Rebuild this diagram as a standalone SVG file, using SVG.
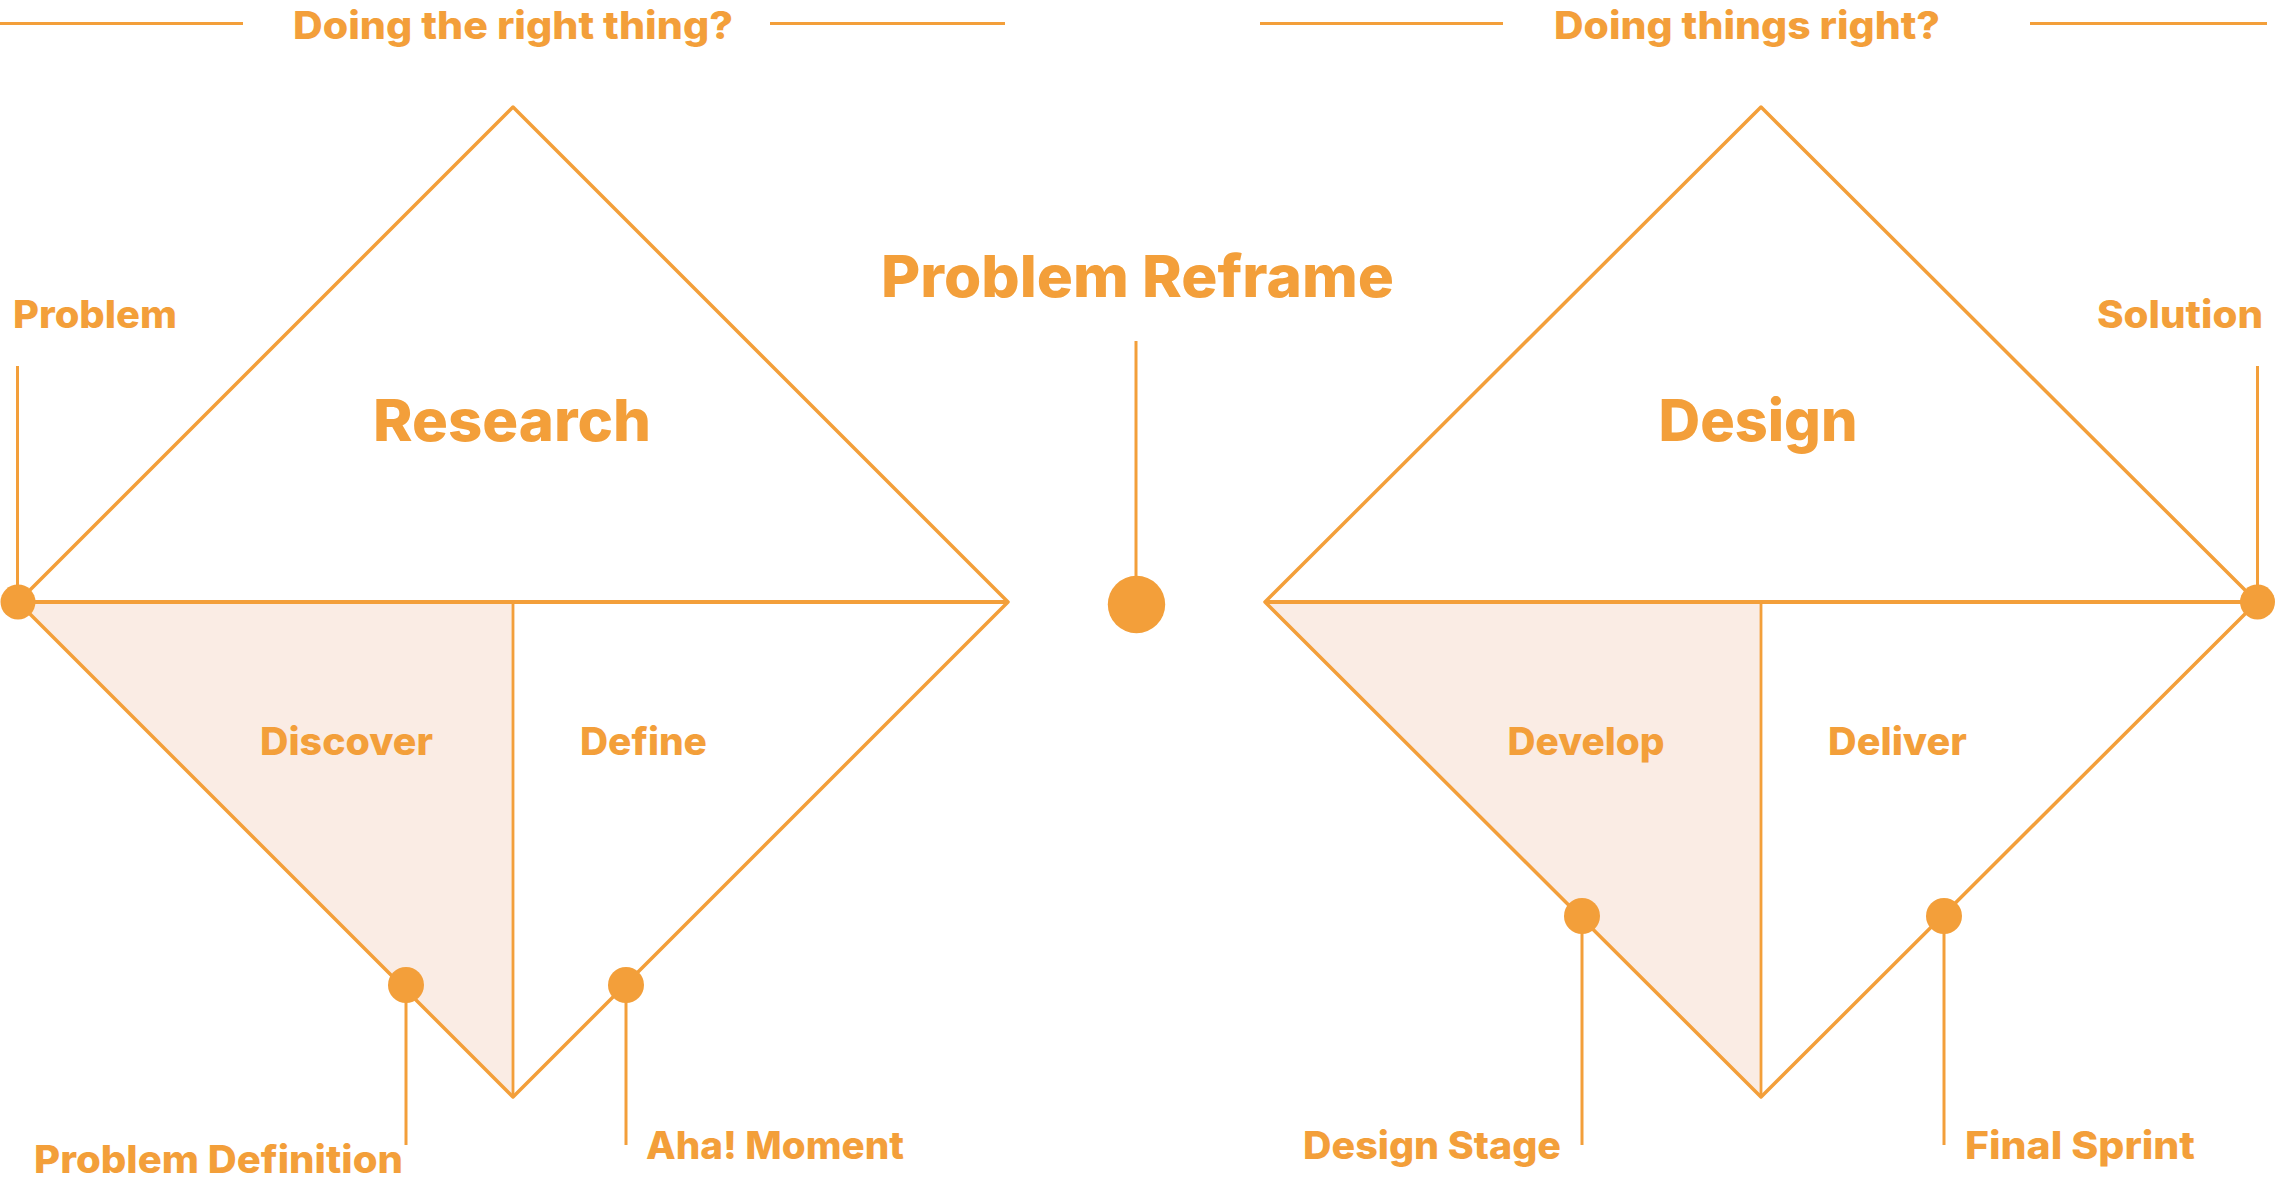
<svg xmlns="http://www.w3.org/2000/svg" width="2276" height="1184" viewBox="0 0 2276 1184">
<style>
.t{font-family:Inter,"Liberation Sans",sans-serif;font-weight:800;fill:#F39F3A}
.s{font-size:38px}
.b{font-size:58px}
.edge{fill:none;stroke:#F39F3A;stroke-width:3.5;stroke-linejoin:round}
.axis{stroke:#F39F3A;stroke-width:4.2}
.div{stroke:#F39F3A;stroke-width:2.8}
.lead{stroke:#F39F3A;stroke-width:3}
.shade{fill:#FAECE4}
.dot{fill:#F39F3A}
</style>
<rect width="2276" height="1184" fill="#FFFFFF"/>
<g id="header-left">
<line class="lead" x1="0" y1="23.5" x2="243" y2="23.5"/>
<line class="lead" x1="770" y1="23.5" x2="1005" y2="23.5"/>
<text class="t s" x="513" y="38.5" text-anchor="middle" textLength="440" lengthAdjust="spacingAndGlyphs">Doing the right thing?</text>
</g>
<g id="header-right">
<line class="lead" x1="1260" y1="23.5" x2="1503" y2="23.5"/>
<line class="lead" x1="2030" y1="23.5" x2="2267" y2="23.5"/>
<text class="t s" x="1747" y="38.5" text-anchor="middle" textLength="386" lengthAdjust="spacingAndGlyphs">Doing things right?</text>
</g>
<g id="diamond-research">
<polygon class="shade" points="18,602 513,602 513,1097"/>
<polygon class="edge" points="513,107 1008,602 513,1097 18,602"/>
<line class="axis" x1="18" y1="602" x2="1008" y2="602"/>
<line class="div" x1="513" y1="602" x2="513" y2="1097"/>
<text class="t b" x="512" y="441" text-anchor="middle" textLength="278" lengthAdjust="spacingAndGlyphs">Research</text>
<text class="t s" x="346.5" y="755" text-anchor="middle" textLength="173" lengthAdjust="spacingAndGlyphs">Discover</text>
<text class="t s" x="643.5" y="755" text-anchor="middle" textLength="127" lengthAdjust="spacingAndGlyphs">Define</text>
</g>
<g id="diamond-design">
<polygon class="shade" points="1265,602 1761,602 1761,1097"/>
<polygon class="edge" points="1761,107 2257,602 1761,1097 1265,602"/>
<line class="axis" x1="1265" y1="602" x2="2257" y2="602"/>
<line class="div" x1="1761" y1="602" x2="1761" y2="1097"/>
<text class="t b" x="1758" y="441" text-anchor="middle" textLength="199" lengthAdjust="spacingAndGlyphs">Design</text>
<text class="t s" x="1586" y="755" text-anchor="middle" textLength="157" lengthAdjust="spacingAndGlyphs">Develop</text>
<text class="t s" x="1897.5" y="755" text-anchor="middle" textLength="139" lengthAdjust="spacingAndGlyphs">Deliver</text>
</g>
<g id="connectors">
<line class="lead" x1="17.5" y1="366" x2="17.5" y2="602"/>
<line class="lead" x1="2257.5" y1="366" x2="2257.5" y2="602"/>
<line class="lead" x1="1136" y1="341" x2="1136" y2="604"/>
<line class="lead" x1="406" y1="985" x2="406" y2="1145"/>
<line class="lead" x1="626" y1="985" x2="626" y2="1145"/>
<line class="lead" x1="1582" y1="916" x2="1582" y2="1145"/>
<line class="lead" x1="1944" y1="916" x2="1944" y2="1145"/>
</g>
<g id="node-problem">
<circle class="dot" cx="18" cy="602" r="17.5"/>
<text class="t s" x="13" y="327.5" textLength="164" lengthAdjust="spacingAndGlyphs">Problem</text>
</g>
<g id="node-solution">
<circle class="dot" cx="2257.5" cy="602" r="17.5"/>
<text class="t s" x="2263" y="327.5" text-anchor="end" textLength="166" lengthAdjust="spacingAndGlyphs">Solution</text>
</g>
<g id="node-reframe">
<circle class="dot" cx="1136.5" cy="604.5" r="28.7"/>
<text class="t b" x="1137.5" y="297" text-anchor="middle" textLength="513" lengthAdjust="spacingAndGlyphs">Problem Reframe</text>
</g>
<g id="node-problem-definition">
<circle class="dot" cx="406" cy="985" r="18"/>
<text class="t s" x="34" y="1173" textLength="369" lengthAdjust="spacingAndGlyphs">Problem Definition</text>
</g>
<g id="node-aha">
<circle class="dot" cx="626" cy="985" r="18"/>
<text class="t s" x="646" y="1159" textLength="258" lengthAdjust="spacingAndGlyphs">Aha! Moment</text>
</g>
<g id="node-design-stage">
<circle class="dot" cx="1582" cy="916" r="18"/>
<text class="t s" x="1303" y="1159" textLength="258" lengthAdjust="spacingAndGlyphs">Design Stage</text>
</g>
<g id="node-final-sprint">
<circle class="dot" cx="1944" cy="916" r="18"/>
<text class="t s" x="1965" y="1159" textLength="230" lengthAdjust="spacingAndGlyphs">Final Sprint</text>
</g>
</svg>
